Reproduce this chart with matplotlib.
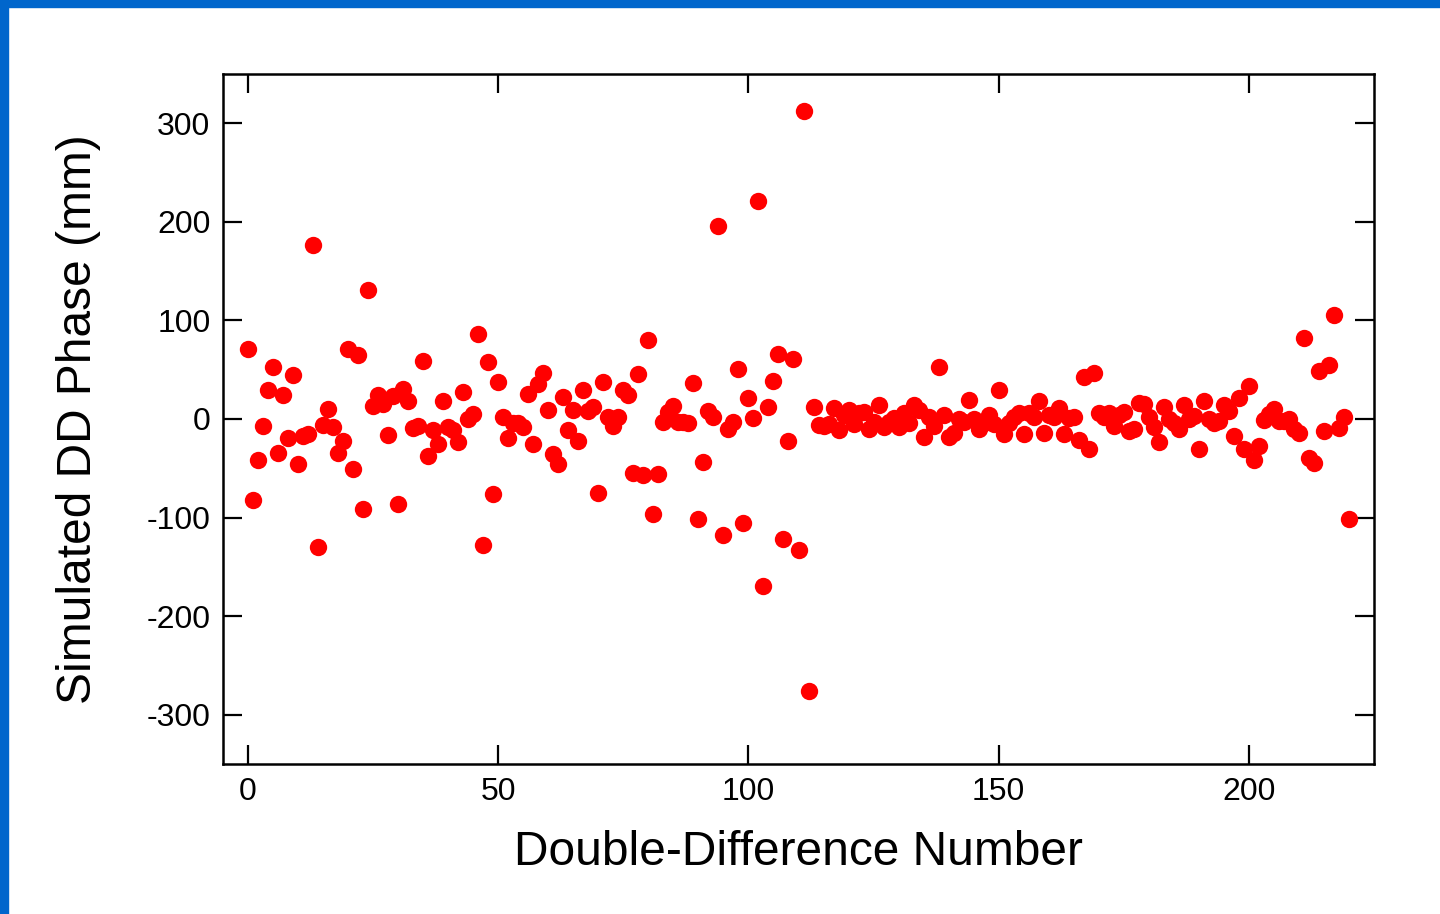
import numpy as np
import matplotlib
matplotlib.use("Agg")
import matplotlib.pyplot as plt
from matplotlib.patches import Rectangle

# simulated double-difference phase values (mm), one per DD number
dd_phase = [
    71, -82, -42, -7, 29, 53, -34, 24, -19, 45,
    -46, -17, -15, 177, -130, -6, 10, -8, -34, -22,
    71, -51, 65, -91, 131, 13, 24, 15, -16, 23,
    -86, 30, 18, -9, -7, 59, -38, -11, -25, 18,
    -8, -11, -23, 27, 0, 5, 86, -128, 58, -76,
    38, 2, -19, -4, -4, -8, 25, -25, 36, 47,
    9, -35, -46, 22, -11, 9, -22, 29, 8, 12,
    -75, 38, 2, -7, 2, 29, 24, -55, 46, -57,
    80, -96, -56, -3, 7, 13, -3, -3, -4, 37,
    -101, -44, 8, 2, 196, -118, -10, -3, 51, -106,
    21, 1, 221, -169, 12, 39, 66, -122, -22, 61,
    -133, 312, -276, 12, -6, -7, -5, 11, -11, 4,
    9, -5, 6, 7, -10, -3, 14, -8, -3, 1,
    -8, 6, -4, 14, 9, -18, 2, -7, 53, 4,
    -18, -14, 0, -3, 19, 0, -10, -4, 4, -5,
    29, -15, -4, 2, 6, -15, 6, 2, 18, -14,
    4, 2, 11, -15, 1, 2, -21, 43, -30, 47,
    6, 2, 6, -7, 4, 7, -12, -10, 16, 15,
    2, -8, -23, 12, 0, -4, -10, 14, 0, 3,
    -30, 18, 0, -4, -2, 14, 8, -17, 21, -30,
    33, -42, -27, -1, 5, 10, -2, -2, 0, -10,
    -14, 82, -40, -45, 49, -12, 55, 106, -9, 2,
    -101,
]
dd_number = np.arange(len(dd_phase))

x_ticks = [0, 50, 100, 150, 200]
y_ticks = [-300, -200, -100, 0, 100, 200, 300]

plt.rcParams['font.family'] = ['Liberation Sans', 'DejaVu Sans']
plt.rcParams['axes.unicode_minus'] = False

fig = plt.figure(figsize=(14.4, 9.14), dpi=100)
fig.patch.set_facecolor('white')
# blue frame strips along top and left edge
fig.patches.append(Rectangle((0, 1 - 6.5 / 914), 1, 6.5 / 914, transform=fig.transFigure,
                             color='#0066CC', zorder=0))
fig.patches.append(Rectangle((0, 0), 7.5 / 1440, 1, transform=fig.transFigure,
                             color='#0066CC', zorder=0))

ax = fig.add_axes([223 / 1440, 150 / 914, 1151 / 1440, 690 / 914])
ax.plot(dd_number, dd_phase, 'o', color='#FF0000', markersize=12.5, markeredgewidth=0)

ax.set_xlim(-5, 225)
ax.set_ylim(-350, 350)
ax.set_xticks(x_ticks)
ax.set_yticks(y_ticks)
ax.tick_params(direction='in', length=14, width=1.6, labelsize=23, pad=9,
               top=True, right=True, color='black')
for s in ax.spines.values():
    s.set_linewidth(1.8)

ax.set_xlabel('Double-Difference Number', fontsize=34.5, labelpad=17)
ax.set_ylabel('Simulated DD Phase (mm)', fontsize=34.5, labelpad=33)

fig.savefig('out.png', dpi=100)
